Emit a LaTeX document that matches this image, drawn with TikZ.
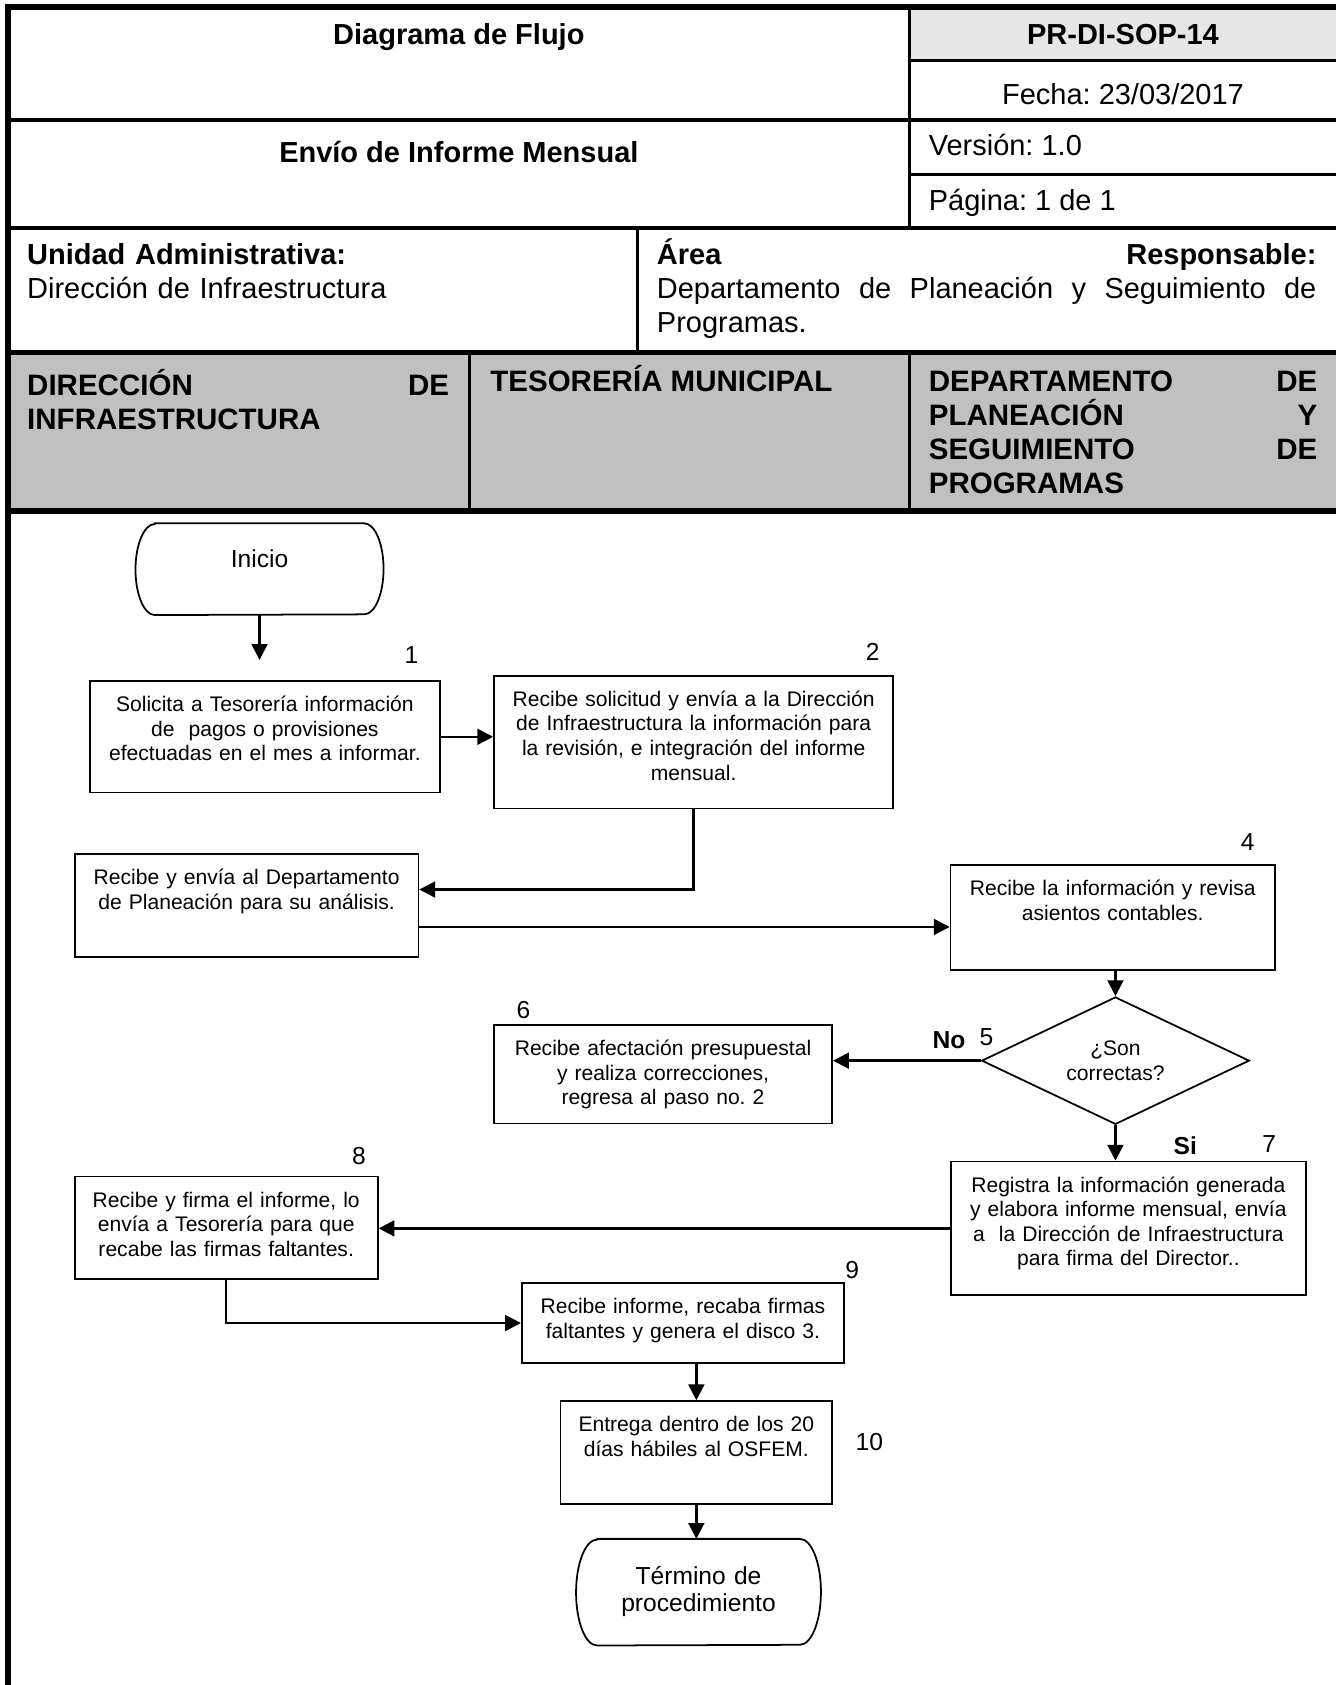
\documentclass[tikz,border=0pt]{standalone}
\usepackage{fontspec}
\setmainfont{Liberation Sans}
\usetikzlibrary{arrows.meta,shapes.geometric}
\definecolor{lanegray}{RGB}{192,192,192}
\definecolor{codegray}{RGB}{230,230,230}
\frenchspacing

\begin{document}
\begin{tikzpicture}[x=0.215mm,y=-0.215mm,
		every node/.style={font=\fontsize{12}{14}\selectfont},
		hdr/.style={font=\fontsize{16.5}{19.3}\selectfont,inner sep=0pt},
		lane/.style={font=\fontsize{16.8}{19.4}\selectfont\bfseries,inner sep=0pt,anchor=base west,align=left},
		stepbox/.style={draw,line width=1pt,anchor=north,inner sep=0pt,align=center,text height=17.4pt},
		term/.style={anchor=north,inner sep=0pt,align=center,font=\fontsize{14}{15.2}\selectfont},
		decision/.style={diamond,draw,line width=1pt,inner sep=0pt,aspect=2,minimum width=152.4pt,minimum height=72.5pt,align=center},
		num/.style={anchor=base,font=\fontsize{14}{16}\selectfont},
		boxline/.style={line width=1pt},
		arr/.style={line width=1.4pt,-{Triangle[length=9pt,width=9pt]}},
		tabline/.style={line width=1.8pt},
		tabmid/.style={line width=2.2pt},
		tabthick/.style={line width=3.2pt},
		frame/.style={line width=3.4pt}]
	\useasboundingbox (0,0) rectangle (1243,1568);
	\fill[codegray] (846,6) rectangle (1243,56);
	\fill[lanegray] (7,328) rectangle (1243,475.5);
	\draw[tabline] (846,6) -- (846,212);
	\draw[tabline] (846,56) -- (1243,56);
	\draw[tabmid] (7,111.6) -- (1243,111.6);
	\draw[tabline] (846,162.4) -- (1243,162.4);
	\draw[tabmid] (7,212) -- (1243,212);
	\draw[tabline] (593.5,212) -- (593.5,328);
	\draw[tabline] (437,328) -- (437,475.5);
	\draw[tabline] (846,328) -- (846,475.5);
	\draw[tabthick] (7,328) -- (1243,328);
	\draw[tabthick] (7,475.5) -- (1243,475.5);
	\draw[frame] (1243,6.5) -- (7.4,6.5) -- (7.4,1568);

	\node[hdr,anchor=base] at (427,41)  (titulo)  {\textbf{Diagrama de Flujo}};
	\node[hdr,anchor=base] at (1045,41) (codigo)  {\textbf{PR-DI-SOP-14}};
	\node[hdr,anchor=base] at (1045,97) (fecha)   {Fecha: 23/03/2017};
	\node[hdr,anchor=base] at (427,151) (proc)    {\textbf{Envío de Informe Mensual}};
	\node[hdr,anchor=base west] at (864,145) (version) {Versión: 1.0};
	\node[hdr,anchor=base west] at (864,196) (pagina)  {Página: 1 de 1};
	\node[hdr,anchor=base west,text width=330pt,align=left] at (25,246) (unidad) {\textbf{Unidad Administrativa:}\\Dirección de Infraestructura};
	\node[hdr,anchor=base west,text width=375.4pt,align=left] at (611,246) (area) {\textbf{Área}\hfill\textbf{Responsable:}\\Departamento\hfill de\hfill Planeación\hfill y\hfill Seguimiento\hfill de\\Programas.};

	\node[lane,text width=240.1pt] at (25,368.4)  (carril1) {DIRECCIÓN\hfill DE\\INFRAESTRUCTURA};
	\node[lane]                    at (456,364.4) (carril2) {TESORERÍA MUNICIPAL};
	\node[lane,text width=221.2pt] at (864,364.4) (carril3) {DEPARTAMENTO\hfill DE\\PLANEACIÓN\hfill Y\\SEGUIMIENTO\hfill DE\\PROGRAMAS};

	\node[term,text width=140.8pt,text height=25pt,text depth=26.8pt] at (241.5,487) (inicio) {Inicio};
	\draw[boxline] ([xshift=11pt]inicio.north west) -- ([xshift=-11pt]inicio.north east)
		arc[start angle=90,end angle=-90,x radius=11pt,y radius=25.9pt]
		-- ([xshift=11pt]inicio.south west)
		arc[start angle=270,end angle=90,x radius=11pt,y radius=25.9pt] -- cycle;

	\node[stepbox,text width=199.3pt,text depth=46pt]   at (246.5,633)  (s1)  {Solicita a Tesorería información\\de\ \ pagos o provisiones\\efectuadas en el mes a informar.};
	\node[stepbox,text width=227.3pt,text depth=58.2pt] at (645.5,628)  (s2)  {Recibe solicitud y envía a la Dirección\\de Infraestructura la información para\\la revisión, e integración del informe\\mensual.};
	\node[stepbox,text width=195.6pt,text depth=41.1pt] at (229.5,794)  (s3)  {Recibe y envía al Departamento\\de Planeación para su análisis.};
	\node[stepbox,text width=184.7pt,text depth=42.3pt] at (1035.5,804) (s4)  {Recibe la información y revisa\\asientos contables.};
	\node[decision]                                      at (1038,987)   (d5)  {¿Son\\correctas?};
	\node[stepbox,text width=192.6pt,text depth=38.7pt] at (617,953)    (s6)  {Recibe afectación presupuestal\\y realiza correcciones,\\regresa al paso no. 2};
	\node[stepbox,text width=202.3pt,text depth=58.8pt] at (1050,1080)  (s7)  {Registra la información generada\\y elabora informe mensual, envía\\a\ \ la Dirección de Infraestructura\\para firma del Director..};
	\node[stepbox,text width=172.5pt,text depth=41.1pt] at (210.5,1094) (s8)  {Recibe y firma el informe, lo\\envía a Tesorería para que\\recabe las firmas faltantes.};
	\node[stepbox,text width=183.4pt,text depth=28.3pt] at (635.5,1193) (s9)  {Recibe informe, recaba firmas\\faltantes y genera el disco 3.};
	\node[stepbox,text width=154.8pt,text depth=41.1pt] at (648,1303)   (s10) {Entrega dentro de los 20\\días hábiles al OSFEM.};

	\node[term,text width=139pt,text height=25.9pt,text depth=34.4pt] at (650,1432) (fin) {Término de\\procedimiento};
	\draw[boxline] ([xshift=12pt]fin.north west) -- ([xshift=-12pt]fin.north east)
		arc[start angle=90,end angle=-90,x radius=12pt,y radius=30.15pt]
		-- ([xshift=12pt]fin.south west)
		arc[start angle=270,end angle=90,x radius=12pt,y radius=30.15pt] -- cycle;

	\node[num] at (383,617)   (n1)  {1};
	\node[num] at (812,615)   (n2)  {2};
	\node[num] at (1161,791)  (n4)  {4};
	\node[num] at (918,973)   (n5)  {5};
	\node[num] at (487,948)   (n6)  {6};
	\node[num] at (1181,1072) (n7)  {7};
	\node[num] at (334,1084)  (n8)  {8};
	\node[num] at (793,1190)  (n9)  {9};
	\node[num] at (809,1350)  (n10) {10};
	\node[num] at (883,976)   (no)  {\textbf{No}};
	\node[num] at (1103,1074) (si)  {\textbf{Si}};

	\draw[arr,shorten >=11.6pt] (inicio.south) -- (inicio.south |- s1.north);
	\draw[arr] (s1.east) -- (s1.east -| s2.west);
	\draw[arr] (s2.south) |- ([yshift=9.1pt]s3.east);
	\draw[arr] ([yshift=-12.2pt]s3.east) -- ([yshift=-12.2pt]s3.east -| s4.west);
	\draw[arr] (d5.north |- s4.south) -- (d5.north);
	\draw[arr] (d5.west) -- (d5.west -| s6.east);
	\draw[arr] (d5.south) -- (d5.south |- s7.north);
	\draw[arr] (s7.west) -- (s7.west -| s8.east);
	\draw[arr] (s8.south) |- (s9.west);
	\draw[arr] (s9.south -| s10.north) -- (s10.north);
	\draw[arr] (s10.south) -- (s10.south |- fin.north);
\end{tikzpicture}
\end{document}
